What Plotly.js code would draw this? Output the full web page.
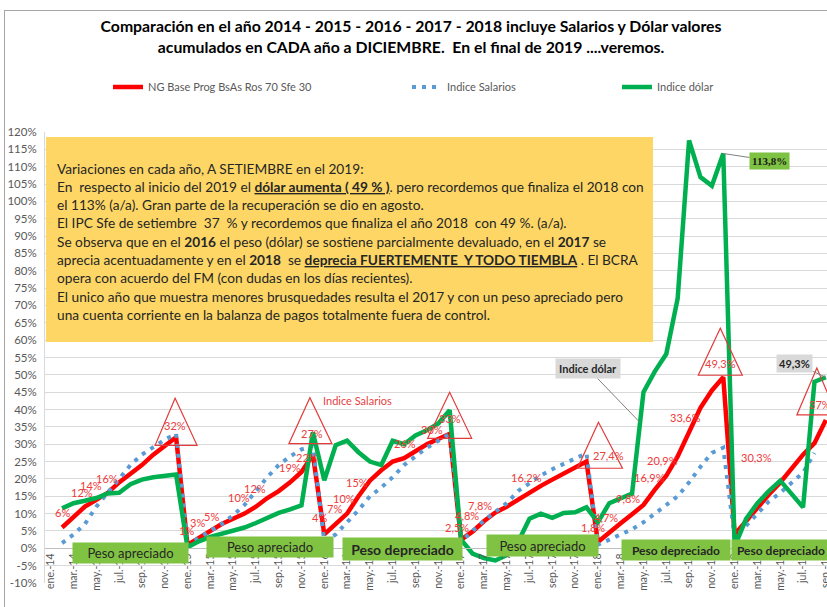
<!DOCTYPE html>
<html>
<head>
<meta charset="utf-8">
<script src="https://cdn.plot.ly/plotly-3.0.1.min.js"></script>
<style>
  html, body { margin: 0; padding: 0; background: #ffffff; overflow: hidden; }
  #wrap { position: relative; width: 827px; height: 607px; }
  #chart { width: 827px; height: 607px; }
  #frame { position: absolute; left: 4px; top: 10px; width: 840px; height: 620px;
           border: 1px solid #A6A6A6; pointer-events: none; box-sizing: border-box; }
</style>
</head>
<body>
<div id="wrap"><div id="chart"></div><div id="frame"></div></div>
<script>
// ---- data: monthly accumulated variation within each year (%) ----
const months = [
  'ene.-14','feb.-14','mar.-14','abr.-14','may.-14','jun.-14','jul.-14','ago.-14','sep.-14','oct.-14','nov.-14','dic.-14',
  'ene.-15','feb.-15','mar.-15','abr.-15','may.-15','jun.-15','jul.-15','ago.-15','sep.-15','oct.-15','nov.-15','dic.-15',
  'ene.-16','feb.-16','mar.-16','abr.-16','may.-16','jun.-16','jul.-16','ago.-16','sep.-16','oct.-16','nov.-16','dic.-16',
  'ene.-17','feb.-17','mar.-17','abr.-17','may.-17','jun.-17','jul.-17','ago.-17','sep.-17','oct.-17','nov.-17','dic.-17',
  'ene.-18','feb.-18','mar.-18','abr.-18','may.-18','jun.-18','jul.-18','ago.-18','sep.-18','oct.-18','nov.-18','dic.-18',
  'ene.-19','feb.-19','mar.-19','abr.-19','may.-19','jun.-19','jul.-19','ago.-19','sep.-19'
];

// NG Base Prog BsAs Ros 70 Sfe 30
const ngBase = [
  null, 6, 9, 12, 14, 16, 19, 21.5, 24, 27, 29.5, 32,
  1, 3, 5, 7, 8.5, 10, 12, 14.5, 16.5, 19, 22, 27,
  4, 7, 10, 15, 19.5, 22.5, 25, 26, 28, 30, 31.5, 33,
  2.5, 4.8, 7.8, 10.3, 12, 14, 16.2, 18, 19.8, 21.5, 23.2, 25,
  1.8, 4.7, 7.2, 9.8, 12.5, 16.9, 20.9, 26.5, 33.6, 40.5, 45.5, 49.3,
  4, 8, 12, 15.5, 19, 23, 27, 30.3, 37
];

// Indice Salarios
const salarios = [
  null, 1.5, 4, 7, 12, 16, 20, 24, 27, 29.3, 31.3, 33,
  1, 3, 5, 7, 9.5, 12.5, 16.5, 20.5, 24, 26.5, 28.5, 29.5,
  2, 4, 7.5, 11, 15, 17.5, 20.5, 24, 26.5, 29, 31, 33,
  2, 5, 8, 10.5, 13, 16.5, 18.7, 21, 22.8, 24.3, 26, 27.4,
  1, 2.5, 4, 5.5, 7.5, 10, 12.5, 15, 19, 23.5, 27.5, 29,
  3, 6.5, 10, 13.5, 16, 19, 21.8, 27.5, null
];

// Indice dólar
const dolar = [
  null, 11.5, 13, 13.7, 14.5, 15.8, 16, 18.5, 19.8, 20.5, 21, 21.3,
  0.3, 2, 3.3, 4.2, 5, 6, 7.3, 8.8, 10.2, 11.2, 12.4, 33.4,
  19.6, 29.7, 31, 27.7, 25, 24, 31, 30, 32.5, 34, 36, 39.8,
  2.5, -1.5, -2.8, -3.5, -2, 1.8, 8.5, 10, 8.8, 10.2, 10.4, 11.8,
  7.5, 13, 14.5, 15.8, 45, 51, 56, 72, 117.6, 107, 104.5, 113.8,
  0.5, 8.5, 13, 16.5, 19.5, 15.5, 11.8, 48, 49.3
];

const seriesNames = ['NG Base Prog BsAs Ros 70 Sfe 30', 'Indice Salarios', 'Indice dólar'];

const yTickVals = [-10, -5, 0, 5, 10, 15, 20, 25, 30, 35, 40, 45, 50, 55, 60, 65, 70, 75, 80, 85, 90, 95, 100, 105, 110, 115, 120];
const yTickText = ['-10%', '-5%', '0%', '5%', '10%', '15%', '20%', '25%', '30%', '35%', '40%', '45%', '50%', '55%', '60%', '65%', '70%', '75%', '80%', '85%', '90%', '95%', '100%', '105%', '110%', '115%', '120%'];

const titleLines = [
  'Comparación en el año 2014 - 2015 - 2016 - 2017 - 2018 incluye Salarios y Dólar valores',
  'acumulados en CADA año a DICIEMBRE.  En el final de 2019 ....veremos.'
];

const noteLines = [
  'Variaciones en cada año, A SETIEMBRE en el 2019:',
  'En  respecto al inicio del 2019 el <b><u>dólar aumenta ( 49 % )</u></b>. pero recordemos que finaliza el 2018 con',
  'el 113% (a/a). Gran parte de la recuperación se dio en agosto.',
  'El IPC Sfe de setiembre  37  % y recordemos que finaliza el año 2018  con 49 %. (a/a).',
  'Se observa que en el <b>2016</b> el peso (dólar) se sostiene parcialmente devaluado, en el <b>2017</b> se',
  'aprecia acentuadamente y en el <b>2018</b>  se <b><u>deprecia FUERTEMENTE  Y TODO TIEMBLA</u></b> . El BCRA',
  'opera con acuerdo del FM (con dudas en los días recientes).',
  'El unico año que muestra menores brusquedades resulta el 2017 y con un peso apreciado pero',
  'una cuenta corriente en la balanza de pagos totalmente fuera de control.'
];

const zoneTexts = ['Peso apreciado', 'Peso apreciado', 'Peso depreciado', 'Peso apreciado', 'Peso depreciado', 'Peso depreciado'];

// ---- layout geometry (pixels of the 827x607 page) ----
const PL = 45, PR = 827, PT = 132, PB = 583;
const px = v => (v - PL) / (PR - PL);      // page x -> paper x
const py = v => (PB - v) / (PB - PT);      // page y -> paper y
const FONT = 'Lato, "Liberation Sans", Arial, sans-serif';

// zone boxes: [left, top, right, bottom, size, bold]
const zoneGeom = [
  [73, 543, 188, 563, 13, false],
  [207, 537, 333, 557, 13, false],
  [343, 538, 462, 560, 14, true],
  [487, 535, 598, 556, 13, false],
  [622, 540, 730, 560, 12, true],
  [732, 540, 830, 560, 12, true]
];

// value labels of the NG series: [index, dx, dy, decimals]
const ngLabelSpec = [
  [1, 0, -15, 0], [3, -3, -14, 0], [4, -5, -14, 0], [5, -1, -14, 0],
  [12, -1, -14, 0], [13, -1, -15, 0], [14, 1, -14, 0], [17, -5, -16, 0], [18, -1, -18, 0],
  [21, 0, -15, 0], [22, 6, -14, 0],
  [24, -5, -17, 0], [25, -1, -16, 0], [26, -3, -15, 0], [27, -1, -14, 0], [31, 1, -15, 0], [33, 5, -15, 0],
  [36, -4, -12, 1], [37, -5, -16, 1], [38, -4, -16, 1], [42, -3, -15, 1],
  [48, -5, -15, 1], [49, -3, -15, 1], [51, -4, -16, 1], [53, -5, -12, 1], [54, -4, -15, 1], [56, -4, -14, 1],
  [67, -58, 14, 1]
];

// triangle call-outs: [series, index, decimals, label dx, label dy, apex, baseLeft, baseRight] (pixel offsets, y up)
const triangleSpec = [
  ['ng', 11, 0, -1, -12, [-1, 39], [-21, -8], [21, -8]],
  ['ng', 23, 0, -1, -21, [-3, 57], [-24, 11], [19, 11]],
  ['ng', 35, 0, 0, -15, [0, 41.5], [-22, -4.5], [22, -4.5]],
  ['sal', 47, 1, 22, 2, [12, 31], [-9, -15], [36, -15]],
  ['ng', 59, 1, -3, -14, [-3, 49], [-25, 2], [19, 2]],
  ['ng', 68, 0, -6, -15, [-9, 52], [-29, 5], [11, 5]]
];

const idx = months.map((m, i) => i);
const seriesByKey = { ng: ngBase, sal: salarios, dol: dolar };
const fmtPct = (v, dec) => (dec ? v.toFixed(dec).replace('.', ',') : String(Math.round(v))) + '%';

const traces = [
  {
    x: idx, y: ngBase, name: seriesNames[0], type: 'scatter', mode: 'lines', showlegend: true,
    line: { color: '#FF0000', width: 4.5 }, legend: 'legend', hoverinfo: 'skip'
  },
  {
    x: idx, y: salarios, name: seriesNames[1], type: 'scatter', mode: 'lines', showlegend: true,
    line: { color: '#5B9BD5', width: 4, dash: '4px,6px' }, legend: 'legend2', hoverinfo: 'skip'
  },
  {
    x: idx, y: dolar, name: seriesNames[2], type: 'scatter', mode: 'lines', showlegend: true,
    line: { color: '#00B050', width: 4.5 }, legend: 'legend3', hoverinfo: 'skip'
  }
];

const shapes = [];
const annotations = [];

// note box
shapes.push({
  type: 'rect', xref: 'paper', yref: 'paper', layer: 'above',
  x0: px(46), x1: px(653), y0: py(342), y1: py(137),
  line: { width: 0 }, fillcolor: '#FDD665'
});
noteLines.forEach((t, i) => {
  annotations.push({
    xref: 'paper', yref: 'paper', x: px(55), y: py(168 + i * 18.3),
    xanchor: 'left', yanchor: 'middle', showarrow: false, align: 'left',
    text: t, font: { family: FONT, size: 13.7, color: '#262626' }
  });
});

// triangle call-outs
triangleSpec.forEach(([key, i, dec, ldx, ldy, a, b, c]) => {
  const v = seriesByKey[key][i];
  shapes.push({
    type: 'path', xref: 'x', yref: 'y', layer: 'above',
    xsizemode: 'pixel', ysizemode: 'pixel', xanchor: i, yanchor: v,
    path: `M${a[0]},${a[1]} L${b[0]},${b[1]} L${c[0]},${c[1]} Z`,
    line: { color: '#E23B3B', width: 1.2 }, fillcolor: 'rgba(0,0,0,0)'
  });
  annotations.push({
    xref: 'x', yref: 'y', x: i, y: v, xshift: ldx, yshift: -ldy, showarrow: false,
    text: fmtPct(v, dec), font: { family: FONT, size: 11, color: '#E8413F' }
  });
});

// value labels on the NG line
ngLabelSpec.forEach(([i, dx, dy, dec]) => {
  annotations.push({
    xref: 'x', yref: 'y', x: i, y: ngBase[i], xshift: dx, yshift: -dy, showarrow: false,
    text: fmtPct(ngBase[i], dec), font: { family: FONT, size: 11, color: '#EE3A3A' }
  });
});

// series call-outs
annotations.push({
  xref: 'paper', yref: 'paper', x: px(357), y: py(400), showarrow: false,
  text: seriesNames[1], font: { family: FONT, size: 11, color: '#E8413F' }
});
annotations.push({
  xref: 'x', yref: 'y', x: 51.7, y: dolar[51] + (dolar[52] - dolar[51]) * 0.7,
  ax: -52, ay: -54, showarrow: true, arrowhead: 0, arrowwidth: 1, arrowcolor: '#808080', standoff: 0,
  text: '<b>' + seriesNames[2] + '</b>', bgcolor: '#D9D9D9', borderpad: 3,
  font: { family: FONT, size: 11, color: '#262626' }
});
annotations.push({
  xref: 'x', yref: 'y', x: 59, y: dolar[59],
  ax: 46, ay: 7, showarrow: true, arrowhead: 0, arrowwidth: 1, arrowcolor: '#808080', standoff: 0,
  text: '<b>' + fmtPct(dolar[59], 1) + '</b>', bgcolor: '#7DC242', borderpad: 2,
  font: { family: '"Liberation Serif", "DejaVu Serif", serif', size: 11, color: '#1A1A1A' }
});
annotations.push({
  xref: 'x', yref: 'y', x: 68, y: dolar[68],
  ax: -31, ay: -14, showarrow: true, arrowhead: 0, arrowwidth: 1, arrowcolor: '#808080', standoff: 0,
  text: '<b>' + fmtPct(dolar[68], 1) + '</b>', bgcolor: '#D9D9D9', borderpad: 2,
  font: { family: FONT, size: 11, color: '#262626' }
});

// peso zones
zoneTexts.forEach((t, k) => {
  const [l, tp, r, b, size, bold] = zoneGeom[k];
  annotations.push({
    xref: 'paper', yref: 'paper', x: px((l + r) / 2), y: py((tp + b) / 2),
    xanchor: 'center', yanchor: 'middle', showarrow: false,
    width: r - l, height: b - tp, borderpad: 0, bgcolor: '#80C342',
    text: bold ? '<b>' + t + '</b>' : t,
    font: { family: FONT, size: size, color: '#262626' }
  });
});

const legendBase = {
  orientation: 'h', xanchor: 'left', yanchor: 'middle', y: py(87),
  bgcolor: 'rgba(0,0,0,0)', font: { family: FONT, size: 11, color: '#595959' }
};

const layout = {
  width: 827, height: 607,
  margin: { l: PL, r: 827 - PR, t: PT, b: 607 - PB, pad: 0 },
  paper_bgcolor: '#ffffff', plot_bgcolor: '#ffffff',
  font: { family: FONT },
  showlegend: true,
  title: {
    text: titleLines.join('<br>'), x: 0.497, xanchor: 'center',
    y: 1 - 32 / 607, yanchor: 'top', yref: 'container',
    font: { family: FONT, size: 15.8, color: '#000000', weight: 'bold' }
  },
  xaxis: {
    range: [-0.5, 68.1], anchor: 'free', position: 10 / 130,
    tickvals: idx.filter(i => i % 2 === 0),
    ticktext: idx.filter(i => i % 2 === 0).map(i => months[i]),
    tickangle: -90, tickfont: { family: FONT, size: 10.5, color: '#595959' },
    ticklabeloverflow: 'allow',
    showgrid: false, zeroline: false, showline: true, linecolor: '#BFBFBF', linewidth: 1,
    ticks: ''
  },
  yaxis: {
    range: [-10, 120], tickvals: yTickVals, ticktext: yTickText,
    tickfont: { family: FONT, size: 11.5, color: '#595959' },
    gridcolor: '#D9D9D9', gridwidth: 1, zeroline: false,
    showline: true, linecolor: '#D9D9D9', ticklabelstandoff: 5
  },
  legend: Object.assign({}, legendBase, { x: px(108) }),
  legend2: Object.assign({}, legendBase, { x: px(407) }),
  legend3: Object.assign({}, legendBase, { x: px(617) }),
  shapes: shapes,
  annotations: annotations
};

Plotly.newPlot('chart', traces, layout, { displayModeBar: false, staticPlot: true });
</script>
</body>
</html>
